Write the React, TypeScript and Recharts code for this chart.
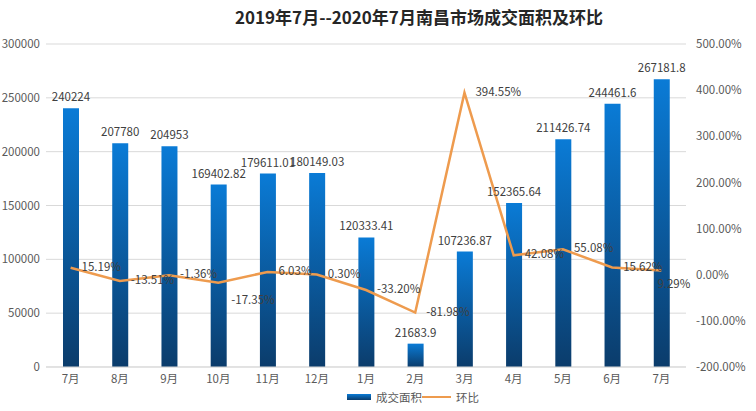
import React from 'react';
import {
  ComposedChart,
  Bar,
  Line,
  XAxis,
  YAxis,
  CartesianGrid,
  Legend,
  LabelList,
} from 'recharts';

const months = ['7月', '8月', '9月', '10月', '11月', '12月', '1月', '2月', '3月', '4月', '5月', '6月', '7月'];
const areaValues = [240224, 207780, 204953, 169402.82, 179611.01, 180149.03, 120333.41, 21683.9, 107236.87, 152365.64, 211426.74, 244461.6, 267181.8];
const momValues = [15.19, -13.51, -1.36, -17.35, 6.03, 0.3, -33.2, -81.98, 394.55, 42.08, 55.08, 15.62, 9.29];
const leftTicks = [0, 50000, 100000, 150000, 200000, 250000, 300000];
const rightTicks = [-200, -100, 0, 100, 200, 300, 400, 500];

const data = months.map((m, i) => ({ name: m, idx: i, area: areaValues[i], mom: momValues[i] }));

const FONT = '"Noto Sans CJK SC", "Noto Sans", sans-serif';
const TEXT = '#404040';
const AXIS_TEXT = '#595959';
const LINE_COLOR = '#EE9B4E';
const FS = 11.5;

const MomLabel = (props: any) => {
  const { x, y, value, index } = props;
  const txt = Number(value).toFixed(2) + '%';
  let dx = 11;
  let dy = 0;
  if (index === 3) {
    dx = 13;
    dy = 18;
  } else if (index === 12) {
    dx = -4;
    dy = 14;
  }
  return (
    <text x={x + dx} y={y + dy} fontSize={FS} fill={TEXT} fontFamily={FONT} textAnchor="start" dominantBaseline="middle">
      {txt}
    </text>
  );
};

const LegendContent = () => (
  <div style={{ display: 'flex', alignItems: 'center', height: 20, paddingLeft: 347, fontFamily: FONT, fontSize: FS, color: AXIS_TEXT }}>
    <span style={{ display: 'inline-block', width: 24, height: 6, background: 'linear-gradient(#0A7BD6, #0B3C6B)' }} />
    <span style={{ marginLeft: 5 }}>成交面积</span>
    <span style={{ display: 'inline-block', width: 29, height: 2, background: LINE_COLOR, marginLeft: 0 }} />
    <span style={{ marginLeft: 5 }}>环比</span>
  </div>
);

export default function App() {
  return (
    <div style={{ position: 'absolute', left: 0, top: 0, width: 756, height: 411, background: '#fff' }}>
      <div
        style={{
          position: 'absolute',
          left: 235,
          top: 6,
          fontFamily: FONT,
          fontSize: 17,
          fontWeight: 'bold',
          color: '#262626',
          lineHeight: '22px',
          whiteSpace: 'nowrap',
        }}
      >
        2019年7月--2020年7月南昌市场成交面积及环比
      </div>
      <ComposedChart width={756} height={411} data={data} margin={{ top: 44, right: 0, left: 0, bottom: 4 }}>
        <defs>
          <linearGradient id="barGrad" x1="0" y1="0" x2="0" y2="1">
            <stop offset="0%" stopColor="#0A7BD6" />
            <stop offset="100%" stopColor="#0B3C6B" />
          </linearGradient>
        </defs>
        <CartesianGrid vertical={false} stroke="#D9D9D9" yAxisId="left" />
        <XAxis
          dataKey="idx"
          tickFormatter={(i: number) => months[i]}
          axisLine={{ stroke: '#D9D9D9' }}
          tickLine={false}
          height={20}
          tick={{ fontSize: FS, fill: AXIS_TEXT, fontFamily: FONT }}
          interval={0}
        />
        <YAxis
          yAxisId="left"
          domain={[0, 300000]}
          ticks={leftTicks}
          width={46}
          axisLine={false}
          tickLine={false}
          tickMargin={0}
          tick={{ fontSize: FS, fill: AXIS_TEXT, fontFamily: FONT }}
        />
        <YAxis
          yAxisId="right"
          orientation="right"
          domain={[-200, 500]}
          ticks={rightTicks}
          width={70}
          axisLine={false}
          tickLine={false}
          tickMargin={4}
          tickFormatter={(v: number) => v.toFixed(2) + '%'}
          tick={{ fontSize: FS, fill: AXIS_TEXT, fontFamily: FONT, textAnchor: 'start' }}
        />
        <Legend verticalAlign="bottom" content={<LegendContent />} />
        <Bar yAxisId="left" dataKey="area" name="成交面积" barSize={16} fill="url(#barGrad)" isAnimationActive={false}>
          <LabelList dataKey="area" position="top" offset={7} fontSize={FS} fill={TEXT} fontFamily={FONT} />
        </Bar>
        <Line
          yAxisId="right"
          dataKey="mom"
          name="环比"
          type="linear"
          stroke={LINE_COLOR}
          strokeWidth={2.5}
          dot={false}
          isAnimationActive={false}
        >
          <LabelList dataKey="mom" content={<MomLabel />} />
        </Line>
      </ComposedChart>
    </div>
  );
}
